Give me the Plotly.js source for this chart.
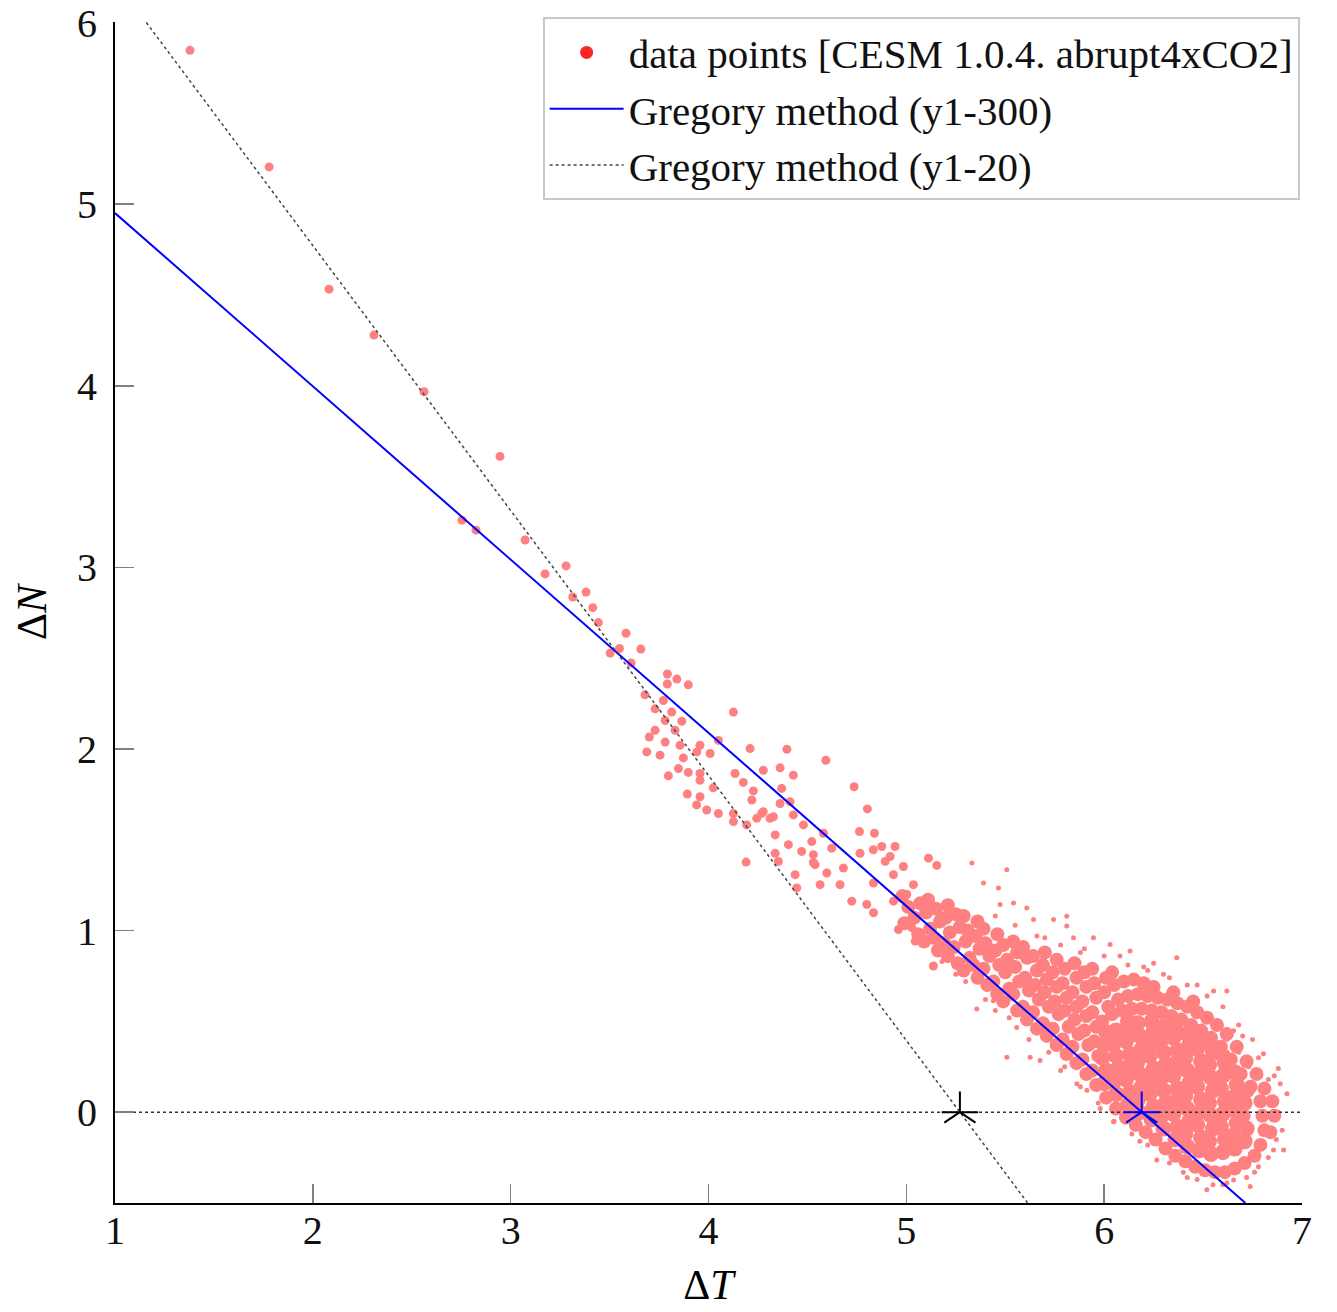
<!DOCTYPE html>
<html>
<head>
<meta charset="utf-8">
<script src="https://cdn.plot.ly/plotly-3.0.1.min.js"></script>
<style>html,body{margin:0;padding:0;background:#fff;}#chart{width:1337px;height:1312px;}</style>
</head>
<body>
<div id="chart"></div>
<script>
// ---------------- data ----------------
// early (large) annual points
const earlyPts = [
[1.379,5.847],[1.779,5.205],[2.082,4.532],[2.309,4.279],[2.562,3.967],[2.946,3.611],[2.754,3.260],[2.825,3.205],
[3.073,3.151],[3.174,2.964],[3.280,3.008],[3.314,2.837],[3.381,2.864],[3.415,2.778],[3.443,2.696],[3.583,2.637],
[3.550,2.553],[3.658,2.550],[3.503,2.528],[3.609,2.473],[3.792,2.413],[3.792,2.358],[3.840,2.385],[3.679,2.298],
[3.772,2.267],[3.898,2.353],[3.730,2.221],[3.814,2.203],[4.126,2.203],[3.781,2.157],[3.865,2.152],[3.730,2.103],
[3.701,2.066],[3.831,2.103],[3.781,2.038],[3.856,2.020],[3.957,2.020],[3.688,1.984],[3.755,1.966],[3.873,1.951],
[3.941,1.984],[4.008,1.975],[4.050,2.047],[4.210,2.002],[4.396,1.998],[3.848,1.892],[3.898,1.871],[3.957,1.865],
[3.797,1.852],[3.957,1.828],[4.134,1.865],[4.176,1.816],[4.277,1.883],[4.362,1.896],[4.429,1.856],[4.370,1.783],
[4.024,1.786],[3.893,1.752],[3.957,1.737],[4.227,1.769],[4.219,1.719],[3.940,1.692],[3.991,1.664],[4.050,1.645],
[4.277,1.655],[4.362,1.700],[4.412,1.710],[4.328,1.627],[4.244,1.618],[4.126,1.600],[4.193,1.582],[4.429,1.637],
[4.480,1.582],[4.593,1.938],[4.736,1.792],[4.803,1.670],[4.269,1.646],[4.311,1.618],[4.337,1.527],[4.581,1.536],
[4.522,1.490],[4.404,1.473],[4.471,1.436],[4.530,1.418],[4.623,1.454],[4.763,1.545],[4.839,1.536],[4.766,1.426],
[4.833,1.445],[4.876,1.463],[4.943,1.463],[4.918,1.408],[4.893,1.381],[4.985,1.353],[4.682,1.344],[4.598,1.317],
[4.539,1.363],[4.337,1.426],[4.353,1.381],[4.190,1.377],[4.438,1.308],[4.564,1.253],[4.665,1.253],[4.834,1.262],
[4.935,1.308],[5.036,1.253],[4.446,1.235],[4.724,1.162],[4.800,1.144],[4.834,1.098],[4.935,1.162],[5.002,1.199],
[4.960,1.006],[5.028,1.016],[4.126,1.645],[4.530,1.375],[5.045,0.942],[5.137,0.805],[5.112,1.399],[5.154,1.359]
];
// middle-period points (dense band)
const bandPts = [
[4.99,1.04],[5.01,1.13],[4.98,1.19],
[5.06,0.98],[5.04,1.07],[5.07,1.15],
[5.09,0.94],[5.12,1.01],[5.10,1.10],[5.11,1.17],
[5.16,0.89],[5.14,0.96],[5.17,1.05],[5.15,1.12],
[5.21,0.86],[5.19,0.93],[5.22,0.99],[5.20,1.07],[5.21,1.14],
[5.26,0.82],[5.24,0.91],[5.27,1.02],[5.25,1.09],
[5.29,0.78],[5.32,0.85],[5.30,0.94],[5.31,1.00],[5.29,1.08],
[5.36,0.74],[5.34,0.81],[5.37,0.90],[5.35,0.97],[5.36,1.05],
[5.41,0.70],[5.39,0.79],[5.42,0.86],[5.40,0.93],[5.39,1.01],
[5.46,0.65],[5.44,0.72],[5.47,0.81],[5.45,0.89],[5.46,0.98],
[5.49,0.61],[5.52,0.68],[5.50,0.77],[5.51,0.84],[5.49,0.92],
[5.56,0.56],[5.54,0.65],[5.57,0.72],[5.55,0.80],[5.56,0.88],[5.54,0.94],
[5.61,0.51],[5.59,0.58],[5.62,0.67],[5.60,0.74],[5.61,0.85],[5.59,0.91],
[5.66,0.46],[5.64,0.55],[5.67,0.62],[5.65,0.70],[5.66,0.78],[5.64,0.86],
[5.71,0.42],[5.69,0.49],[5.72,0.58],[5.70,0.66],[5.71,0.73],[5.69,0.81],[5.70,0.88],
[5.76,0.37],[5.74,0.46],[5.77,0.54],[5.75,0.61],[5.76,0.69],[5.74,0.77],[5.76,0.84],
[5.81,0.32],[5.79,0.40],[5.82,0.47],[5.80,0.56],[5.81,0.63],[5.79,0.71],[5.80,0.79],
[5.86,0.27],[5.84,0.36],[5.87,0.43],[5.85,0.51],[5.86,0.58],[5.84,0.66],[5.86,0.74],[5.85,0.82],
[5.91,0.21],[5.89,0.29],[5.92,0.37],[5.90,0.45],[5.91,0.53],[5.89,0.61],[5.91,0.69],[5.90,0.77],
[5.96,0.15],[5.94,0.23],[5.97,0.31],[5.95,0.39],[5.96,0.47],[5.94,0.55],[5.96,0.63],[5.95,0.71],[5.94,0.79],
[6.01,0.08],[5.99,0.50],[6.02,0.58],[6.00,0.66],[6.01,0.74],
[6.06,0.02],[6.04,0.54],[6.07,0.62],[6.05,0.70],[6.04,0.77],
[6.11,-0.03],[6.09,0.56],[6.12,0.64],[6.10,0.72],
[6.16,-0.07],[6.14,0.57],[6.17,0.65],[6.15,0.73],
[6.21,-0.11],[6.19,0.57],[6.22,0.64],[6.20,0.71],
[6.26,-0.15],[6.24,0.56],[6.27,0.63],[6.25,0.69],
[6.31,-0.20],[6.29,0.55],[6.32,0.62],
[6.36,-0.24],[6.34,0.53],[6.37,0.60],[6.35,0.66],
[6.41,-0.27],[6.39,0.51],[6.42,0.58],
[6.46,-0.30],[6.44,0.48],[6.47,0.55],[6.45,0.61],
[6.51,-0.32],[6.49,0.45],[6.52,0.52],
[6.56,-0.33],[6.54,0.41],[6.57,0.48],
[6.61,-0.33],[6.59,0.36],[6.62,0.43],
[6.66,-0.31],[6.64,0.29],[6.67,0.36],
[6.71,-0.28],[6.69,0.21],[6.72,0.28],
[6.76,-0.24],[6.74,0.14],[6.77,0.21],
[6.79,-0.18],[6.81,-0.10],[6.80,-0.02],[6.79,0.06],[6.81,0.13],
[6.84,-0.11],[6.86,-0.02],[6.85,0.06]
];
// late-period points, densest part of the cloud
const corePts = [
[6.00,0.16],[6.01,0.23],[5.99,0.30],[6.00,0.37],[6.01,0.44],
[6.06,0.10],[6.05,0.17],[6.07,0.24],[6.06,0.31],[6.05,0.38],[6.06,0.45],
[6.12,0.04],[6.13,0.11],[6.11,0.18],[6.12,0.25],[6.13,0.32],[6.11,0.39],[6.12,0.46],[6.12,0.50],
[6.18,0.00],[6.17,0.07],[6.19,0.14],[6.18,0.21],[6.17,0.28],[6.19,0.35],[6.18,0.42],[6.17,0.49],
[6.24,-0.04],[6.25,0.03],[6.23,0.10],[6.24,0.17],[6.25,0.24],[6.23,0.31],[6.24,0.38],[6.25,0.45],[6.24,0.50],
[6.30,-0.09],[6.29,-0.02],[6.31,0.05],[6.30,0.12],[6.29,0.19],[6.31,0.26],[6.30,0.33],[6.29,0.40],[6.30,0.47],
[6.36,-0.15],[6.37,-0.08],[6.35,-0.01],[6.36,0.06],[6.37,0.13],[6.35,0.20],[6.36,0.27],[6.37,0.34],[6.35,0.41],[6.36,0.46],
[6.42,-0.19],[6.41,-0.12],[6.43,-0.05],[6.42,0.02],[6.41,0.09],[6.43,0.16],[6.42,0.23],[6.41,0.30],[6.43,0.37],[6.42,0.43],
[6.48,-0.21],[6.49,-0.14],[6.47,-0.07],[6.48,0.00],[6.49,0.07],[6.47,0.14],[6.48,0.21],[6.49,0.28],[6.47,0.35],[6.48,0.40],
[6.54,-0.23],[6.53,-0.16],[6.55,-0.09],[6.54,-0.02],[6.53,0.05],[6.55,0.12],[6.54,0.19],[6.53,0.26],[6.55,0.33],[6.54,0.37],
[6.60,-0.22],[6.61,-0.15],[6.59,-0.08],[6.60,-0.01],[6.61,0.06],[6.59,0.13],[6.60,0.20],[6.61,0.27],[6.60,0.31],
[6.66,-0.20],[6.65,-0.13],[6.67,-0.06],[6.66,0.01],[6.65,0.08],[6.67,0.15],[6.66,0.22],
[6.71,-0.16],[6.72,-0.09],[6.70,-0.02],[6.71,0.05],[6.72,0.12]
];
// scattered outliers around the cloud
const fringePts = [
[5.331,1.372],[5.508,1.335],[5.390,1.262],[5.466,1.235],[5.542,1.152],[5.609,1.125],[5.474,1.144],[5.643,1.061],
[5.744,1.061],[5.811,1.079],[5.811,1.025],[5.845,0.961],[5.946,0.961],[6.030,0.924],[6.131,0.888],[6.367,0.851],
[6.553,0.668],[6.620,0.668],[6.654,0.449],[6.805,0.322],[6.890,0.157],[6.924,0.102],[6.856,-0.208],[6.907,-0.208],
[6.822,-0.117],[6.839,-0.026],[6.519,-0.427],[6.654,-0.373],[6.738,-0.409],[6.266,-0.263],[6.342,-0.245],[6.047,-0.053],
[5.862,0.157],[5.913,0.121],[5.508,0.303],[5.626,0.303],[5.676,0.285],[5.356,0.568],[5.440,0.614],[5.558,0.467],
[6.451,-0.318],[6.569,-0.336],[6.250,0.820],[6.300,0.760],[6.470,0.700],[6.700,0.420],[6.880,0.240],[6.900,-0.100],
[6.760,-0.330],[6.600,-0.400],[6.420,-0.360],[6.180,-0.160],[5.980,0.020],[5.780,0.230],[5.520,0.520],[5.300,0.720],
[5.700,0.960],[5.900,0.900],[6.080,0.860],[6.200,0.800],
[6.620,0.400],[6.680,0.330],[6.730,0.250],[6.780,0.300],[6.830,0.180],[6.860,0.200],[6.880,0.000],[6.870,-0.150],
[6.830,-0.250],[6.780,-0.300],[6.720,-0.360],[6.620,-0.390],[6.550,-0.400],[6.470,-0.370],[6.400,-0.330],[6.330,-0.280],
[6.220,-0.180],[6.140,-0.120],[6.050,-0.050],[5.970,0.050],[5.880,0.140],[5.800,0.250],[5.720,0.330],[5.620,0.400],
[5.450,0.560],[5.400,0.620],[5.250,0.760],[5.180,0.830],[5.450,1.080],[5.550,1.030],[5.660,0.970],[5.780,0.920],
[5.880,0.880],[6.000,0.860],[6.120,0.810],[6.220,0.780],[6.330,0.740],[6.420,0.700],[6.520,0.640],[6.600,0.580],
[6.680,0.480],[6.750,0.400]
];
// Gregory regressions: dN = F - lambda * dT
const F300 = 5.905, lambda300 = 0.954;   // years 1-300
const F20 = 7.69, lambda20 = 1.459;      // years 1-20
const xRange = [1, 7];
const yRange = [-0.5, 6];
const xTicks = [1, 2, 3, 4, 5, 6, 7];
const yTicks = [0, 1, 2, 3, 4, 5, 6];
const legendNames = ['data points [CESM 1.0.4. abrupt4xCO2]', 'Gregory method (y1-300)', 'Gregory method (y1-20)'];

// ---------------- chart ----------------
const px = a => a.map(p => p[0]);
const py = a => a.map(p => p[1]);
const ptColor = '#ff8080';
const font = 'Liberation Serif, Times New Roman, serif';

function regLine(F, lam, yTop) {
  const x0 = Math.max(xRange[0], (F - yTop) / lam);
  const x1 = (F - yRange[0]) / lam;
  return {x: [x0, x1], y: [F - lam * x0, F - lam * x1]};
}
const l300 = regLine(F300, lambda300, yRange[1]);
const l20 = regLine(F20, lambda20, yRange[1]);
const eq300 = F300 / lambda300, eq20 = F20 / lambda20;

function star(x, color, symbol) {
  return {x: [x], y: [0], type: 'scatter', mode: 'markers', showlegend: false, hoverinfo: 'skip',
    marker: {symbol: symbol, size: 26, color: color, line: {color: color, width: 2}}};
}

const traces = [
  {x: [null], y: [null], type: 'scatter', mode: 'markers', name: legendNames[0], legendrank: 1,
   marker: {color: '#ff2424', size: 13}},
  {x: px(earlyPts), y: py(earlyPts), type: 'scatter', mode: 'markers', showlegend: false, hoverinfo: 'skip',
   marker: {color: ptColor, size: 9}},
  {x: px(bandPts), y: py(bandPts), type: 'scatter', mode: 'markers', showlegend: false, hoverinfo: 'skip',
   marker: {color: ptColor, size: 14}},
  {x: px(corePts), y: py(corePts), type: 'scatter', mode: 'markers', showlegend: false, hoverinfo: 'skip',
   marker: {color: ptColor, size: 16}},
  {x: px(fringePts), y: py(fringePts), type: 'scatter', mode: 'markers', showlegend: false, hoverinfo: 'skip',
   marker: {color: ptColor, size: 5}},
  {x: xRange, y: [0, 0], type: 'scatter', mode: 'lines', showlegend: false, hoverinfo: 'skip',
   line: {color: '#333', width: 1.5, dash: 'dot'}},
  {x: l300.x, y: l300.y, type: 'scatter', mode: 'lines', name: legendNames[1], legendrank: 2,
   line: {color: '#0000ff', width: 2}},
  {x: l20.x, y: l20.y, type: 'scatter', mode: 'lines', name: legendNames[2], legendrank: 3,
   line: {color: '#444', width: 1.5, dash: 'dot'}},
  star(eq20, '#000000', 'y-up-open'),
  star(eq20, '#000000', 'line-ew-open'),
  star(eq300, '#0000ff', 'y-up-open'),
  star(eq300, '#0000ff', 'line-ew-open')
];

const axisCommon = {
  showgrid: false, zeroline: false, showline: true, linecolor: '#000', linewidth: 2, mirror: false,
  ticks: 'inside', ticklen: 19, tickwidth: 1.5, tickcolor: '#808080', ticklabeloverflow: 'allow',
  tickfont: {family: font, size: 40, color: '#111'}
};

const layout = {
  width: 1337, height: 1312,
  margin: {l: 115, r: 35, t: 22, b: 109},
  paper_bgcolor: '#fff', plot_bgcolor: '#fff',
  showlegend: true,
  legend: {x: 0.998, y: 1.004, xanchor: 'right', yanchor: 'top', bgcolor: '#fff', bordercolor: '#c8c8c8', borderwidth: 2,
    font: {family: font, size: 41, color: '#111'}, itemwidth: 74, tracegroupgap: 0},
  xaxis: Object.assign({}, axisCommon, {range: xRange, tickvals: xTicks, ticktext: xTicks.map(String), ticklabelstandoff: -9,
    title: {text: 'Δ<i>T</i>', font: {family: font, size: 42, color: '#000'}, standoff: 18}}),
  yaxis: Object.assign({}, axisCommon, {range: [yRange[0], yRange[1] + 0.003], tickvals: yTicks, ticktext: yTicks.map(String), ticklabelstandoff: 8,
    title: {text: 'Δ<i>N</i>', font: {family: font, size: 42, color: '#000'}, standoff: 17}})
};

Plotly.newPlot('chart', traces, layout, {displayModeBar: false, staticPlot: true});
</script>
</body>
</html>
